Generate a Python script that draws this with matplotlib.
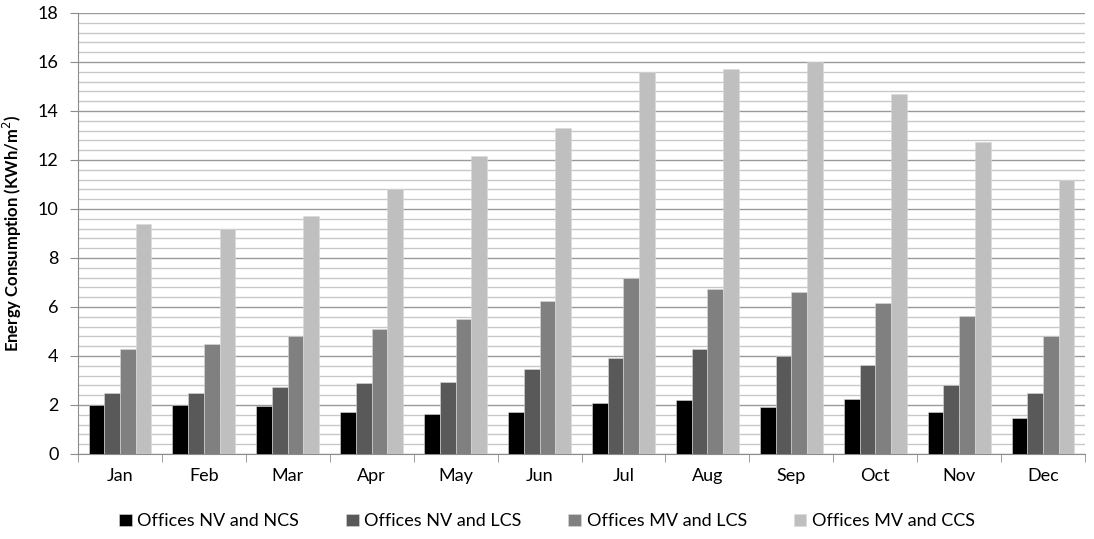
import numpy as np
import matplotlib
matplotlib.use("Agg")
import matplotlib.pyplot as plt
from matplotlib.ticker import MultipleLocator

plt.rcParams["font.family"] = ["Lato", "DejaVu Sans"]

# ---------------------------------------------------------------------------
# Data
# ---------------------------------------------------------------------------
months = ["Jan", "Feb", "Mar", "Apr", "May", "Jun",
          "Jul", "Aug", "Sep", "Oct", "Nov", "Dec"]
nv_ncs = [2.0, 2.0, 1.95, 1.7, 1.65, 1.7, 2.1, 2.2, 1.9, 2.25, 1.7, 1.45]
nv_lcs = [2.5, 2.5, 2.75, 2.9, 2.95, 3.45, 3.9, 4.3, 4.0, 3.65, 2.8, 2.5]
mv_lcs = [4.3, 4.5, 4.8, 5.1, 5.5, 6.25, 7.2, 6.75, 6.6, 6.15, 5.65, 4.8]
mv_ccs = [9.4, 9.2, 9.7, 10.8, 12.15, 13.3, 15.6, 15.7, 16.0, 14.7, 12.75, 11.2]

series = [
    ("Offices NV and NCS", nv_ncs, "#000000"),
    ("Offices NV and LCS", nv_lcs, "#595959"),
    ("Offices MV and LCS", mv_lcs, "#808080"),
    ("Offices MV and CCS", mv_ccs, "#bfbfbf"),
]

# ---------------------------------------------------------------------------
# Plot
# ---------------------------------------------------------------------------
fig = plt.figure(figsize=(10.94, 5.39), dpi=100)
ax = fig.add_axes([0.0713, 0.1577, 0.9205, 0.8182])

x = np.arange(len(months))
w = 0.187
for i, (label, vals, color) in enumerate(series):
    ax.bar(x + (i - 1.5) * w, vals, width=w, color=color, label=label,
           edgecolor="#d9d9d9", linewidth=0.4, zorder=3)

ax.set_xlim(-0.5, len(months) - 0.5)
ax.set_ylim(0, 18)
ax.yaxis.set_major_locator(MultipleLocator(2))
ax.yaxis.set_minor_locator(MultipleLocator(0.4))
ax.grid(True, axis="y", which="major", color="#9a9a9a", linewidth=1.0, zorder=0)
ax.grid(True, axis="y", which="minor", color="#c8c8c8", linewidth=1.0, zorder=0)

ax.set_xticks(x)
ax.set_xticklabels(months)
ax.set_xticks(np.arange(-0.5, len(months), 1.0), minor=True)
ax.tick_params(axis="x", which="major", length=0, pad=10, labelsize=13)
ax.tick_params(axis="x", which="minor", length=6, color="#8c8c8c", direction="out")
ax.tick_params(axis="y", which="major", length=6, color="#8c8c8c", labelsize=13, pad=8)
ax.tick_params(axis="y", which="minor", length=0)

for s in ["top", "right"]:
    ax.spines[s].set_visible(False)
for s in ["left", "bottom"]:
    ax.spines[s].set_color("#8c8c8c")

ax.set_ylabel("Energy Consumption (KWh/m$^2$)", fontsize=12, fontweight="bold",
              labelpad=10)

fig.legend(loc="center", bbox_to_anchor=(0.5, 0.033), ncol=4, frameon=False,
           fontsize=13, handlelength=0.7, handleheight=0.7, handletextpad=0.3,
           columnspacing=2.6)

fig.savefig("out.png", dpi=100)
